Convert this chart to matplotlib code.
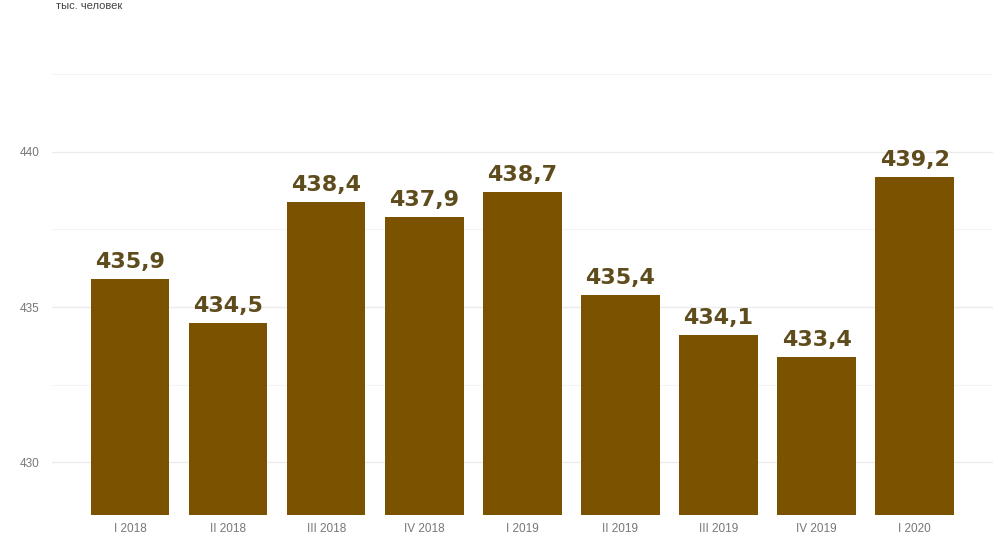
import matplotlib.pyplot as plt
from matplotlib.ticker import MultipleLocator

plt.rcParams['font.family'] = ['Liberation Sans', 'DejaVu Sans']

# Data
quarters = ["I 2018", "II 2018", "III 2018", "IV 2018", "I 2019",
            "II 2019", "III 2019", "IV 2019", "I 2020"]
values = [435.9, 434.5, 438.4, 437.9, 438.7, 435.4, 434.1, 433.4, 439.2]
unit_label = "тыс. человек"

BAR_COLOR = "#7a5200"
LABEL_COLOR = "#5e4c1c"

fig = plt.figure(figsize=(9.94, 5.42), dpi=100)
ax = fig.add_axes([0.052, 0.05, 0.947, 0.87])

x = range(len(quarters))
ax.bar(x, values, width=0.8, color=BAR_COLOR, zorder=2)

# value labels (wide bold face like the source)
for xi, v in zip(x, values):
    ax.text(xi, v + 0.22, f"{v:.1f}".replace(".", ","), ha="center", va="bottom",
            fontsize=16, fontweight="bold", color=LABEL_COLOR, zorder=3,
            family="DejaVu Sans")

ax.set_ylim(428.3, 443.5)
ax.set_xlim(-0.8, 8.8)
ax.yaxis.set_major_locator(MultipleLocator(5))
ax.yaxis.set_minor_locator(MultipleLocator(2.5))
ax.grid(axis="y", which="major", color="#ebebeb", linewidth=1.0, zorder=0)
ax.grid(axis="y", which="minor", color="#f4f4f4", linewidth=0.8, zorder=0)

ax.set_xticks(list(x))
ax.set_xticklabels(quarters)
ax.tick_params(axis="both", which="both", length=0, labelsize=8.5, labelcolor="#777777")
ax.tick_params(axis="x", pad=6)
ax.tick_params(axis="y", pad=9)
for s in ax.spines.values():
    s.set_visible(False)

# unit caption at the very top edge
fig.text(0.056, 0.999, unit_label, fontsize=8, color="#444444", va="top")

fig.savefig("out.png", dpi=100)
